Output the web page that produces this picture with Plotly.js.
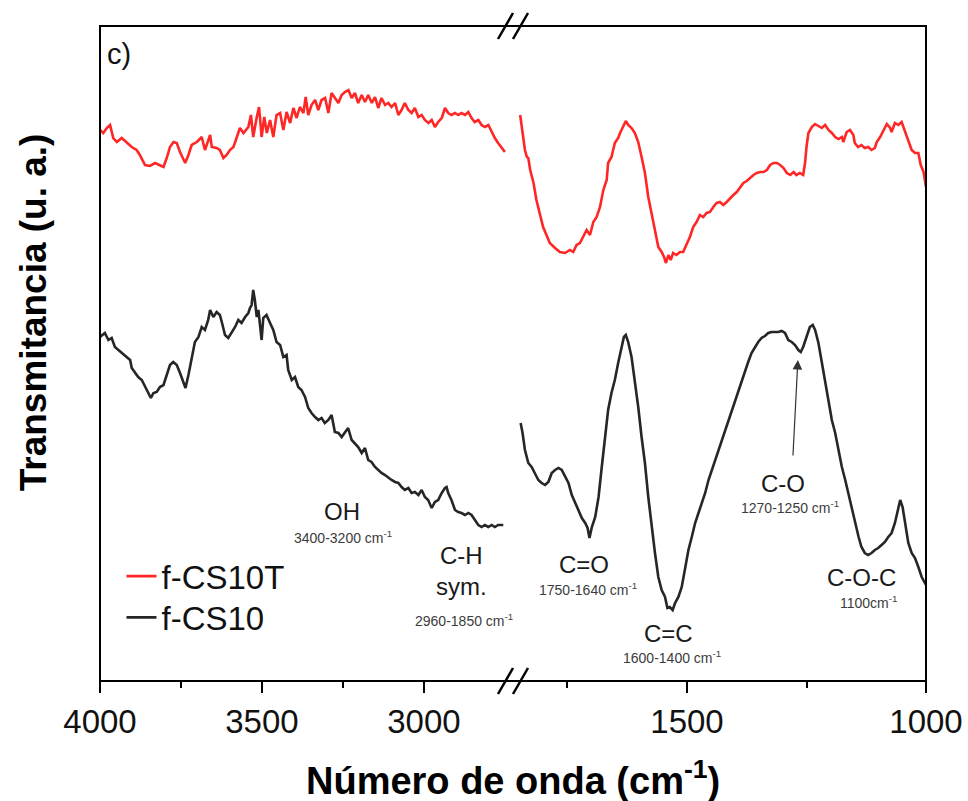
<!DOCTYPE html>
<html>
<head>
<meta charset="utf-8">
<script src="https://cdn.plot.ly/plotly-3.0.1.min.js"></script>
<style>
  html, body { margin: 0; padding: 0; background: #fff; }
  #chart { width: 968px; height: 801px; }
</style>
</head>
<body>
<div id="chart"></div>
<script>
// FTIR spectra, broken wavenumber axis: 4000-2725 cm-1 (left) and 1864-1000 cm-1 (right).
// Transmittance in arbitrary units.

// f-CS10T, high-wavenumber segment
const redHiWn = [4000,3990,3979,3969,3959,3948,3933,3918,3902,3887,3877,3861,3846,3830,3815,3804,3794,3784,3773,3763,3753,3737,3727,3717,3701,3686,3676,3660,3655,3640,3630,3619,3609,3599,3588,3578,3568,3557,3542,3534,3527,3516,3509,3501,3493,3485,3475,3465,3455,3444,3434,3424,3413,3403,3393,3383,3372,3365,3357,3347,3336,3326,3316,3305,3295,3285,3275,3264,3254,3244,3233,3223,3213,3203,3192,3182,3172,3161,3151,3141,3131,3120,3110,3100,3089,3079,3069,3059,3048,3038,3028,3017,3007,2997,2986,2976,2966,2956,2945,2935,2925,2915,2904,2894,2884,2873,2863,2853,2843,2832,2822,2812,2801,2791,2781,2771,2760,2750];
const redHiT = [551,548,553,556,543,539,543,539,534,531,526,516,515,518,516,514,523,534,539,538,529,518,526,536,539,544,531,546,534,533,531,523,526,531,534,544,553,548,554,566,544,564,574,544,564,548,561,544,566,568,551,569,558,573,563,574,568,584,566,576,581,571,581,583,568,588,583,578,586,589,591,583,588,578,586,579,586,578,584,573,583,576,578,574,578,566,571,578,571,568,573,564,566,561,558,561,554,559,563,573,568,566,568,566,568,566,569,563,559,561,556,554,556,549,543,538,533,529];

// f-CS10T, fingerprint segment
const redLoWn = [1849,1846,1842,1839,1835,1832,1828,1821,1815,1808,1801,1794,1787,1776,1766,1755,1745,1738,1731,1724,1717,1710,1703,1696,1689,1682,1675,1668,1665,1658,1651,1644,1640,1633,1628,1623,1616,1609,1602,1595,1588,1581,1574,1567,1560,1553,1548,1544,1539,1534,1529,1522,1515,1508,1501,1494,1487,1480,1473,1466,1459,1452,1445,1438,1431,1424,1417,1410,1403,1396,1389,1382,1375,1368,1361,1354,1347,1340,1333,1326,1319,1312,1305,1298,1291,1284,1277,1271,1264,1257,1253,1250,1246,1239,1232,1225,1218,1211,1204,1197,1190,1183,1176,1173,1166,1159,1152,1149,1142,1135,1128,1121,1114,1107,1103,1096,1089,1082,1075,1072,1065,1058,1051,1044,1037,1030,1023,1016,1011,1005,1000];
const redLoT = [566,554,544,531,524,523,511,498,481,466,454,446,438,433,429,428,431,429,436,438,444,451,446,459,464,474,491,501,518,524,538,543,548,556,560,556,553,548,539,524,508,484,466,451,434,429,424,418,426,421,428,426,429,429,436,444,454,459,466,464,468,469,474,478,479,476,479,483,486,489,493,498,500,503,506,508,509,509,511,516,518,518,516,513,508,506,509,506,508,506,518,534,548,554,557,555,553,556,551,548,544,542,544,539,549,551,546,538,534,536,533,534,531,533,539,544,551,557,553,549,558,556,559,549,541,531,528,528,516,509,494];

// f-CS10, high-wavenumber segment
const blackHiWn = [4000,3985,3974,3964,3954,3943,3933,3918,3907,3902,3892,3882,3871,3861,3851,3843,3835,3825,3815,3804,3794,3784,3774,3763,3753,3743,3736,3727,3717,3707,3696,3686,3676,3666,3660,3650,3640,3630,3624,3614,3604,3594,3583,3573,3563,3552,3542,3537,3532,3527,3522,3516,3511,3506,3501,3496,3486,3475,3465,3455,3444,3434,3424,3419,3408,3398,3388,3378,3367,3357,3347,3336,3326,3316,3306,3295,3285,3275,3264,3254,3244,3234,3223,3213,3203,3192,3182,3172,3162,3151,3141,3131,3120,3110,3100,3089,3079,3069,3059,3048,3038,3028,3017,3007,2997,2987,2976,2966,2956,2945,2935,2930,2925,2915,2904,2894,2884,2873,2863,2853,2843,2832,2822,2812,2801,2791,2781,2771,2755];
const blackHiT = [344,348,341,343,334,331,328,324,321,313,308,304,301,294,288,283,288,289,294,296,306,316,319,316,308,298,293,306,323,339,344,354,351,361,371,364,369,366,359,346,343,348,354,361,358,364,368,373,376,391,381,364,371,356,341,363,366,358,351,339,336,324,326,311,301,304,294,291,284,273,268,264,261,263,258,261,266,249,248,244,249,253,241,238,234,228,233,221,219,214,211,208,206,203,201,199,198,194,191,193,188,189,186,191,184,181,173,179,181,188,193,194,188,181,171,169,168,166,168,166,161,156,154,156,154,156,154,156,156];

// f-CS10, fingerprint segment
const blackLoWn = [1848,1844,1839,1835,1832,1825,1818,1811,1804,1797,1790,1783,1776,1769,1762,1755,1748,1741,1734,1727,1720,1713,1708,1704,1699,1692,1685,1679,1672,1665,1658,1651,1644,1637,1632,1628,1623,1616,1609,1602,1595,1588,1581,1574,1567,1560,1553,1546,1541,1536,1530,1525,1518,1511,1504,1497,1490,1483,1476,1469,1462,1455,1448,1441,1434,1427,1420,1413,1407,1400,1393,1386,1379,1372,1365,1358,1351,1344,1337,1330,1323,1316,1309,1302,1295,1288,1281,1274,1267,1262,1257,1250,1243,1237,1232,1225,1218,1211,1204,1197,1190,1183,1176,1169,1162,1155,1148,1141,1135,1128,1121,1114,1107,1100,1093,1086,1079,1072,1065,1058,1054,1049,1044,1037,1030,1023,1016,1009,1000];
const blackLoT = [258,248,231,223,218,214,208,201,198,196,199,208,211,213,211,204,198,186,178,171,163,158,153,143,154,164,184,211,241,271,288,301,318,334,344,346,339,324,301,274,244,218,184,154,128,104,91,84,73,74,71,78,84,94,111,131,144,158,168,178,188,201,211,221,231,241,251,261,271,281,291,301,311,319,328,334,339,343,345,348,349,349,349,350,348,341,339,336,331,329,334,344,354,356,351,338,318,298,278,261,248,231,214,201,186,171,158,144,134,128,126,128,131,133,136,139,144,148,158,173,181,174,158,138,128,123,114,104,96];

// Axis ticks
const hiTicks = [4000, 3500, 3000];
const hiMinorTicks = [3750, 3250];
const loTicks = [1500, 1000];
const loMinorTicks = [1750, 1250];

const seriesNames = ['f-CS10T', 'f-CS10'];
const seriesColors = ['#ff2626', '#262626'];
const seriesLegends = ['legend', 'legend2'];

const FONT = 'Arial, "Liberation Sans", Helvetica, sans-serif';

function spectrum(x, y, i, axis, showInLegend) {
  return {
    x: x, y: y,
    xaxis: axis, yaxis: 'y',
    type: 'scatter', mode: 'lines',
    name: seriesNames[i],
    legend: seriesLegends[i],
    legendgroup: seriesNames[i],
    showlegend: showInLegend,
    line: { color: seriesColors[i], width: 2.6 },
    hoverinfo: 'skip'
  };
}

const data = [
  spectrum(redHiWn, redHiT, 0, 'x', true),
  spectrum(redLoWn, redLoT, 0, 'x2', false),
  spectrum(blackHiWn, blackHiT, 1, 'x', true),
  spectrum(blackLoWn, blackLoT, 1, 'x2', false)
];

function xAxis(domain, range, ticks, minorTicks) {
  return {
    domain: domain, range: range, anchor: 'y',
    tickmode: 'array', tickvals: ticks, ticktext: ticks.map(String),
    ticks: 'outside', ticklen: 11, tickwidth: 2, tickcolor: '#000',
    tickfont: { family: FONT, size: 33, color: '#111' },
    minor: { tickmode: 'array', tickvals: minorTicks, ticks: 'outside', ticklen: 6,
             tickwidth: 2, tickcolor: '#000', showgrid: false },
    showgrid: false, zeroline: false, showline: false, fixedrange: true
  };
}

// Break marks "//" on the top and bottom frame lines
function slash(x0, x1, yAnchor) {
  return {
    type: 'line', xref: 'paper', yref: 'paper',
    xsizemode: 'pixel', xanchor: 0.5, ysizemode: 'pixel', yanchor: yAnchor,
    x0: x0, x1: x1, y0: -13, y1: 13,
    line: { color: '#000', width: 2.5 }
  };
}

const small = { family: FONT, size: 14, color: '#3c3c3c' };
const big = { family: FONT, size: 24, color: '#1a1a1a' };
function label(text, x, y, axis, font) {
  return { text: text, x: x, y: y, xref: axis, yref: 'y', showarrow: false,
           xanchor: 'center', yanchor: 'middle', font: font };
}

const annotations = [
  label('c)', 3941, 627, 'x', { family: FONT, size: 29, color: '#111' }),
  label('OH', 3253, 170, 'x', big),
  label('3400-3200 cm<sup>-1</sup>', 3250, 144, 'x', small),
  label('C-H<br>sym.', 2883, 110, 'x', big),
  label('2960-1850 cm<sup>-1</sup>', 2877, 61, 'x', small),
  label('C=O', 1715, 117, 'x2', big),
  label('1750-1640 cm<sup>-1</sup>', 1707, 92, 'x2', small),
  label('C=C', 1538, 48, 'x2', big),
  label('1600-1400 cm<sup>-1</sup>', 1531, 24, 'x2', small),
  label('C-O', 1299, 198, 'x2', big),
  label('1270-1250 cm<sup>-1</sup>', 1285, 174, 'x2', small),
  label('C-O-C', 1134, 104, 'x2', big),
  label('1100cm<sup>-1</sup>', 1119, 79, 'x2', small),
  // arrow pointing at the C-O shoulder
  { text: '', x: 1268, y: 321, xref: 'x2', yref: 'y', showarrow: true,
    ax: -5, ay: 97, axref: 'pixel', ayref: 'pixel',
    arrowhead: 2, arrowsize: 1.6, arrowwidth: 1.2, arrowcolor: '#333', standoff: 0 },
  // axis titles
  { text: '<b>Número de onda (cm<sup>-1</sup>)</b>', x: 0.5, y: -0.148,
    xref: 'paper', yref: 'paper', showarrow: false, xanchor: 'center', yanchor: 'middle',
    font: { family: FONT, size: 38, color: '#000' } },
  { text: '<b>Transmitancia (u. a.)</b>', x: -0.081, y: 0.563, textangle: -90,
    xref: 'paper', yref: 'paper', showarrow: false, xanchor: 'center', yanchor: 'middle',
    font: { family: FONT, size: 37, color: '#000' } }
];

function legendBox(y) {
  return {
    x: 0.026, y: y, xanchor: 'left', yanchor: 'middle',
    bgcolor: 'rgba(0,0,0,0)', borderwidth: 0,
    font: { family: FONT, size: 33, color: '#111' },
    itemwidth: 30
  };
}

const layout = {
  width: 968, height: 801,
  margin: { l: 100, r: 42, t: 26, b: 120 },
  paper_bgcolor: '#fff', plot_bgcolor: '#fff',
  showlegend: true,
  legend: legendBox(0.160),
  legend2: legendBox(0.097),
  xaxis: xAxis([0, 0.5], [4000, 2725], hiTicks, hiMinorTicks),
  xaxis2: xAxis([0.5, 1], [1864, 1000], loTicks, loMinorTicks),
  yaxis: { range: [0, 655], showticklabels: false, ticks: '', showgrid: false,
           zeroline: false, showline: false, fixedrange: true },
  shapes: [
    { type: 'rect', xref: 'paper', yref: 'paper', x0: 0, x1: 1, y0: 0, y1: 1,
      line: { color: '#000', width: 2 }, fillcolor: 'rgba(0,0,0,0)', layer: 'above' },
    slash(-15, 0, 1), slash(0, 15, 1),
    slash(-15, 0, 0), slash(0, 15, 0)
  ],
  annotations: annotations
};

Plotly.newPlot('chart', data, layout, { displayModeBar: false, staticPlot: true });
</script>
</body>
</html>
